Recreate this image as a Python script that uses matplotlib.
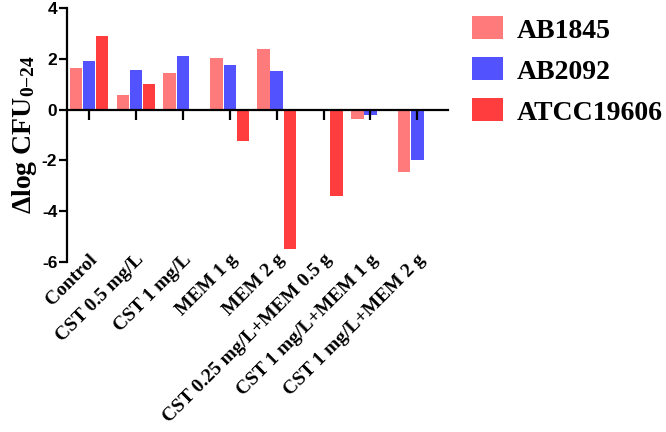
import numpy as np
import matplotlib
matplotlib.use("Agg")
from matplotlib import pyplot as plt

plt.rcParams["mathtext.fontset"] = "custom"
plt.rcParams["mathtext.rm"] = "Liberation Serif:bold"
plt.rcParams["mathtext.bf"] = "Liberation Serif:bold"
plt.rcParams["mathtext.it"] = "Liberation Serif:bold"

# Data
categories = ["Control", "CST 0.5 mg/L", "CST 1 mg/L", "MEM 1 g", "MEM 2 g",
              "CST 0.25 mg/L+MEM 0.5 g", "CST 1 mg/L+MEM 1 g", "CST 1 mg/L+MEM 2 g"]
strains = ["AB1845", "AB2092", "ATCC19606"]
ab1845 = [1.64, 0.59, 1.44, 2.02, 2.39, 0.0, -0.37, -2.47]
ab2092 = [1.90, 1.57, 2.10, 1.77, 1.51, 0.0, -0.20, -1.97]
atcc19606 = [2.91, 1.02, 0.0, -1.25, -5.48, -3.39, 0.0, 0.0]
colors = ["#FF7B7B", "#5252FF", "#FF3D3F"]

fig = plt.figure(figsize=(6.66, 4.32), dpi=100)
ax = fig.add_axes([0.1006, 0.3935, 0.5725, 0.5880])

x = np.arange(len(categories))
w = 0.265
step = 0.28
for k, vals in enumerate([ab1845, ab2092, atcc19606]):
    ax.bar(x + (k - 1) * step, vals, width=w, color=colors[k], label=strains[k])

ax.set_xlim(-0.47, 7.66)
ax.set_ylim(-6, 4)
ax.set_yticks([-6, -4, -2, 0, 2, 4])
ax.set_yticklabels(["-6", "-4", "-2", "0", "2", "4"],
                   fontfamily="Liberation Sans", fontweight="bold", fontsize=12.5)

# x axis crossing at zero, ticks pointing down, no labels there
ax.spines["bottom"].set_position(("data", 0))
ax.spines["top"].set_visible(False)
ax.spines["right"].set_visible(False)
for s in ["left", "bottom"]:
    ax.spines[s].set_linewidth(1.6)
ax.set_xticks(x)
ax.set_xticklabels([])
ax.tick_params(axis="x", direction="out", length=7, width=1.6)
ax.tick_params(axis="y", direction="out", length=6, width=1.6, pad=1)

# category names hang below the plot
sec = ax.secondary_xaxis(0.0)
sec.set_xticks(x - 0.01)
sec.set_xticklabels(categories, rotation=45, ha="right", va="top",
                    rotation_mode="anchor", fontfamily="Liberation Serif",
                    fontweight="bold", fontsize=14)
sec.tick_params(length=0, pad=-8)
sec.spines["bottom"].set_visible(False)

ax.set_ylabel("\u0394log CFU$_{0{-}24}$", fontfamily="Liberation Serif",
              fontweight="bold", fontsize=20, labelpad=2)

fig.legend(loc="upper left", bbox_to_anchor=(0.7087, 0.962), frameon=False,
           borderpad=0, borderaxespad=0,
           prop={"family": "Liberation Serif", "weight": "bold", "size": 20},
           handlelength=1.1, handleheight=0.9, handletextpad=0.5, labelspacing=0.5)

fig.savefig("out.png", dpi=100)
